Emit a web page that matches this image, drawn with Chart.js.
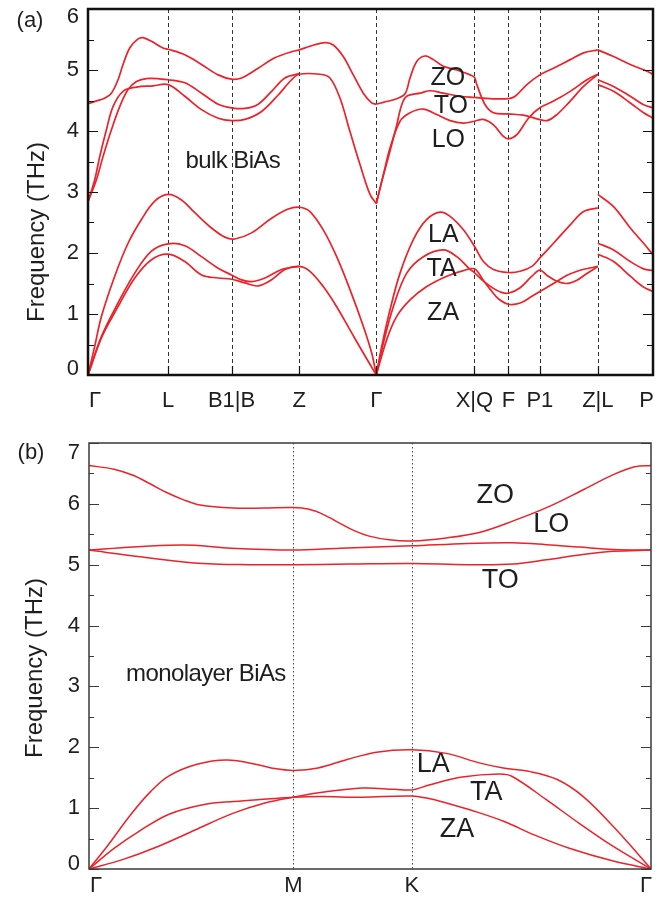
<!DOCTYPE html>
<html>
<head>
<meta charset="utf-8">
<script src="https://cdn.jsdelivr.net/npm/chart.js@4.4.1/dist/chart.umd.min.js"></script>
<style>
  html, body { margin: 0; padding: 0; background: #fff; }
  #wrap { position: relative; width: 671px; height: 898px; }
  canvas { position: absolute; left: 0; }
  #bulkChart { top: 0; width: 671px; height: 420px; }
  #monoChart { top: 420px; width: 671px; height: 478px; }
</style>
</head>
<body>
<div id="wrap">
  <canvas id="bulkChart" width="671" height="420"></canvas>
  <canvas id="monoChart" width="671" height="478"></canvas>
</div>
<script>
// === k-path (path length in arbitrary units) and labels ===
const bulkTicks = [0, 0.80, 1.434, 2.11, 2.88, 3.86, 4.20, 4.514, 5.093, 5.644];
const bulkTickLabels = ["Γ", "L", "B1|B", "Z", "Γ", "X|Q", "F", "P1", "Z|L", "P"];
const monoTicks = [0, 2.043, 3.227, 5.617];
const monoTickLabels = ["Γ", "M", "K", "Γ"];
const bulkFreqTicks = [0, 1, 2, 3, 4, 5, 6];
const monoFreqTicks = [0, 1, 2, 3, 4, 5, 6, 7];

// === bulk BiAs: Γ - L - B1|B - Z - Γ ===
const bulkOpt1L = [[0,4.45],[0.12,4.51],[0.17,4.54],[0.234,4.62],[0.30,4.84],[0.35,5.09],[0.417,5.36],[0.50,5.51],[0.55,5.53],[0.634,5.47],[0.75,5.36],[0.80,5.34],[0.967,5.25],[1.134,5.09],[1.30,4.92],[1.434,4.85],[1.534,4.87],[1.70,5.03],[1.867,5.20],[2.034,5.30],[2.11,5.33],[2.217,5.39],[2.367,5.45],[2.45,5.41],[2.55,5.22],[2.65,4.92],[2.75,4.62],[2.834,4.46],[2.88,4.44]];
const bulkOpt2L = [[0,2.84],[0.067,3.20],[0.117,3.58],[0.184,4.02],[0.25,4.40],[0.35,4.65],[0.484,4.72],[0.65,4.74],[0.80,4.76],[0.967,4.57],[1.134,4.35],[1.30,4.21],[1.434,4.17],[1.567,4.19],[1.734,4.32],[1.90,4.59],[2.034,4.84],[2.11,4.93],[2.317,4.93],[2.417,4.87],[2.517,4.54],[2.617,3.99],[2.717,3.45],[2.817,2.96],[2.88,2.81]];
const bulkOpt3L = [[0,2.84],[0.084,3.20],[0.15,3.58],[0.234,4.02],[0.317,4.40],[0.40,4.68],[0.484,4.81],[0.584,4.86],[0.80,4.84],[0.967,4.79],[1.134,4.62],[1.30,4.44],[1.434,4.38],[1.567,4.37],[1.70,4.44],[1.834,4.65],[1.967,4.87],[2.11,4.94]];
const bulkLAL = [[0,0],[0.067,0.47],[0.134,0.96],[0.267,1.62],[0.40,2.16],[0.534,2.55],[0.667,2.85],[0.80,2.96],[0.934,2.87],[1.067,2.66],[1.234,2.41],[1.367,2.26],[1.467,2.23],[1.634,2.33],[1.834,2.57],[2.00,2.72],[2.11,2.75],[2.217,2.68],[2.35,2.38],[2.484,1.94],[2.617,1.40],[2.75,0.80],[2.834,0.36],[2.88,0]];
const bulkTA1L = [[0,0],[0.134,0.63],[0.30,1.18],[0.467,1.67],[0.634,2.03],[0.80,2.15],[0.967,2.12],[1.134,1.94],[1.30,1.75],[1.434,1.64],[1.534,1.56],[1.634,1.53],[1.767,1.59],[1.934,1.73],[2.11,1.78]];
const bulkTA2L = [[0,0],[0.134,0.61],[0.30,1.12],[0.467,1.59],[0.634,1.89],[0.80,1.98],[0.967,1.86],[1.134,1.64],[1.30,1.59],[1.434,1.57],[1.567,1.51],[1.70,1.46],[1.834,1.56],[1.967,1.73],[2.11,1.78],[2.217,1.70],[2.35,1.45],[2.484,1.12],[2.617,0.74],[2.75,0.36],[2.88,0]];

// === bulk BiAs: Γ - X|Q - F - P1 - Z|L ===
const bulkOpt1R = [[2.88,4.44],[2.95,4.47],[3.084,4.53],[3.167,4.61],[3.217,4.87],[3.284,5.14],[3.367,5.23],[3.45,5.17],[3.55,5.06],[3.684,5.00],[3.817,4.92],[3.86,4.88],[3.884,4.76],[3.967,4.43],[4.05,4.30],[4.20,4.28],[4.35,4.26],[4.484,4.20],[4.584,4.17],[4.684,4.27],[4.817,4.49],[4.95,4.73],[5.093,4.93]];
const bulkOpt2R = [[2.88,2.81],[2.934,3.17],[3.017,3.67],[3.084,4.10],[3.134,4.43],[3.184,4.57],[3.317,4.62],[3.417,4.66],[3.55,4.62],[3.717,4.57],[3.86,4.55],[4.017,4.53],[4.20,4.53],[4.267,4.57],[4.384,4.76],[4.514,4.92],[4.65,5.03],[4.817,5.17],[4.95,5.28],[5.093,5.33]];
const bulkOpt3R = [[2.88,2.81],[2.95,3.28],[3.017,3.72],[3.117,4.16],[3.217,4.30],[3.35,4.36],[3.484,4.27],[3.617,4.17],[3.75,4.13],[3.86,4.16],[3.95,4.19],[4.05,4.10],[4.15,3.91],[4.20,3.87],[4.284,3.94],[4.40,4.21],[4.514,4.38],[4.65,4.49],[4.817,4.65],[4.984,4.84],[5.093,4.93]];
const bulkLAR = [[2.88,0],[2.934,0.47],[3.017,1.07],[3.117,1.67],[3.25,2.22],[3.384,2.55],[3.517,2.67],[3.617,2.60],[3.75,2.38],[3.86,2.11],[3.95,1.86],[4.05,1.73],[4.20,1.68],[4.317,1.70],[4.434,1.78],[4.514,1.92],[4.65,2.16],[4.817,2.46],[4.95,2.68],[5.093,2.74]];
const bulkTAR = [[2.88,0],[2.95,0.52],[3.05,1.12],[3.184,1.67],[3.35,1.94],[3.55,2.05],[3.684,1.94],[3.817,1.73],[3.86,1.68],[3.95,1.54],[4.05,1.42],[4.12,1.36],[4.20,1.34],[4.317,1.43],[4.434,1.62],[4.514,1.72],[4.58,1.64],[4.68,1.54],[4.78,1.50],[4.88,1.55],[4.98,1.66],[5.093,1.78]];
const bulkZAR = [[2.88,0],[2.984,0.58],[3.084,0.96],[3.217,1.23],[3.384,1.45],[3.584,1.62],[3.75,1.71],[3.86,1.74],[3.95,1.55],[4.02,1.40],[4.10,1.25],[4.20,1.16],[4.317,1.18],[4.434,1.29],[4.514,1.37],[4.65,1.50],[4.78,1.63],[4.90,1.71],[5.00,1.75],[5.093,1.78]];

// === bulk BiAs: L - P ===
const bulkOpt1P = [[5.093,5.33],[5.25,5.22],[5.417,5.09],[5.584,4.98],[5.644,4.93]];
const bulkOpt2P = [[5.093,4.84],[5.25,4.73],[5.417,4.57],[5.55,4.43],[5.644,4.38]];
const bulkOpt3P = [[5.093,4.76],[5.25,4.65],[5.417,4.46],[5.55,4.30],[5.644,4.21]];
const bulkAc1P = [[5.093,2.96],[5.25,2.76],[5.417,2.41],[5.55,2.16],[5.644,1.97]];
const bulkAc2P = [[5.093,2.16],[5.25,2.05],[5.417,1.86],[5.55,1.74],[5.644,1.71]];
const bulkAc3P = [[5.093,1.98],[5.25,1.86],[5.417,1.62],[5.55,1.44],[5.644,1.37]];

// === monolayer BiAs: Γ - M - K - Γ ===
const monoZO = [[0,6.63],[0.25,6.57],[0.44,6.47],[0.61,6.33],[0.77,6.19],[0.94,6.07],[1.11,5.98],[1.44,5.93],[1.75,5.93],[2.043,5.94],[2.20,5.91],[2.35,5.82],[2.509,5.68],[2.65,5.56],[2.80,5.47],[3.00,5.41],[3.227,5.39],[3.57,5.44],[3.90,5.53],[4.24,5.72],[4.59,5.95],[4.95,6.24],[5.24,6.48],[5.455,6.61],[5.617,6.63]];
const monoLO = [[0,5.24],[0.33,5.28],[0.80,5.32],[1.05,5.32],[1.42,5.27],[2.043,5.24],[2.51,5.27],[3.227,5.31],[3.78,5.35],[4.24,5.36],[4.57,5.33],[4.90,5.29],[5.24,5.25],[5.617,5.24]];
const monoTO = [[0,5.24],[0.51,5.13],[1.05,5.03],[1.60,5.00],[2.043,5.00],[2.60,5.01],[3.227,5.02],[3.78,5.00],[4.24,5.01],[4.57,5.08],[4.90,5.16],[5.24,5.22],[5.617,5.24]];
const monoLA = [[0,0],[0.18,0.37],[0.42,0.90],[0.62,1.28],[0.80,1.53],[1.08,1.72],[1.38,1.79],[1.70,1.71],[1.855,1.65],[2.043,1.62],[2.29,1.66],[2.58,1.80],[2.873,1.92],[3.227,1.96],[3.57,1.90],[3.91,1.74],[4.14,1.66],[4.41,1.60],[4.68,1.47],[4.94,1.19],[5.24,0.70],[5.48,0.26],[5.617,0]];
const monoTA = [[0,0],[0.327,0.15],[0.69,0.37],[1.06,0.64],[1.43,0.91],[1.75,1.08],[2.043,1.18],[2.33,1.26],[2.73,1.33],[3.055,1.31],[3.227,1.30],[3.40,1.38],[3.73,1.51],[4.10,1.56],[4.23,1.52],[4.57,1.14],[4.90,0.75],[5.24,0.37],[5.617,0]];
const monoZA = [[0,0],[0.25,0.34],[0.50,0.62],[0.80,0.90],[1.15,1.06],[1.45,1.11],[1.78,1.15],[2.043,1.18],[2.33,1.19],[2.73,1.18],[3.227,1.20],[3.42,1.15],[3.58,1.08],[3.85,0.95],[4.15,0.78],[4.45,0.56],[4.80,0.34],[5.24,0.13],[5.617,0]];

// === text annotations (k, frequency) ===
const bulkNotes = [["bulk BiAs", 1.447, 3.51], ["ZO", 3.595, 4.86], ["TO", 3.625, 4.40], ["LO", 3.60, 3.85], ["LA", 3.55, 2.30], ["TA", 3.532, 1.73], ["ZA", 3.547, 1.02]];
const monoNotes = [["monolayer BiAs", 1.168, 3.205], ["ZO", 4.06, 6.13], ["LO", 4.62, 5.66], ["TO", 4.11, 4.74], ["LA", 3.44, 1.71], ["TA", 3.97, 1.25], ["ZA", 3.677, 0.645]];

const RED = "#ee2128";
const FONT = "'Liberation Sans', Arial, sans-serif";

function band(points, width) {
  return {
    data: points.map(([x, y]) => ({ x, y })),
    borderColor: RED,
    borderWidth: width,
    pointRadius: 0,
    showLine: true,
    fill: false,
    tension: 0.35,
  };
}

// === draws frame, inner ticks, guide lines and all texts ===
function decorPlugin(o) {
  return {
    id: "decor",
    beforeDatasetsDraw(chart) {
      const { ctx, chartArea: a, scales } = chart;
      ctx.save();
      ctx.strokeStyle = o.guideColor;
      ctx.lineWidth = 1;
      ctx.setLineDash(o.guideDash);
      o.ticks.slice(1, -1).forEach((k) => {
        const px = Math.round(scales.x.getPixelForValue(k)) + 0.5;
        ctx.beginPath();
        ctx.moveTo(px, a.top);
        ctx.lineTo(px, a.bottom);
        ctx.stroke();
      });
      ctx.restore();
    },
    afterDatasetsDraw(chart) {
      const { ctx, chartArea: a, scales } = chart;
      const x = scales.x, y = scales.y;
      ctx.save();
      ctx.setLineDash([]);

      // inner ticks on both sides every 0.5 THz
      ctx.strokeStyle = o.frameColor;
      ctx.lineWidth = 1.2;
      for (let v = 0; v <= o.freqTicks[o.freqTicks.length - 1]; v += 0.5) {
        const py = Math.round(y.getPixelForValue(v)) + 0.5;
        const len = Number.isInteger(v) ? o.majorLen : o.minorLen;
        ctx.beginPath();
        ctx.moveTo(a.left, py); ctx.lineTo(a.left + len, py);
        ctx.moveTo(a.right, py); ctx.lineTo(a.right - len, py);
        ctx.stroke();
      }
      if (o.bottomTick) {
        o.ticks.slice(1, -1).forEach((k) => {
          const px = Math.round(x.getPixelForValue(k)) + 0.5;
          ctx.beginPath();
          ctx.moveTo(px, a.bottom); ctx.lineTo(px, a.bottom - o.bottomTick);
          ctx.stroke();
        });
      }

      // frame
      ctx.lineWidth = o.frameWidth;
      ctx.strokeRect(a.left, a.top, a.right - a.left, a.bottom - a.top);

      ctx.fillStyle = "#1e1e1e";
      // frequency tick labels
      ctx.font = o.tickFont + "px " + FONT;
      ctx.textAlign = "right";
      ctx.textBaseline = "middle";
      o.freqTicks.forEach((v) => {
        let py = y.getPixelForValue(v);
        py = Math.min(Math.max(py, a.top + o.edgeTop), a.bottom - o.edgeBottom);
        ctx.fillText(String(v), a.left - o.labelGap, py);
      });

      // k-path labels
      o.ticks.forEach((k, i) => {
        let px = x.getPixelForValue(k);
        ctx.textAlign = "center";
        if (i === 0) { ctx.textAlign = "left"; px = a.left + 1; }
        if (i === o.ticks.length - 1) { ctx.textAlign = "right"; px = a.right + 1; }
        ctx.fillText(o.tickLabels[i], px, a.bottom + o.kLabelDrop);
      });

      // axis title
      ctx.save();
      ctx.translate(o.titleX, o.titleY);
      ctx.rotate(-Math.PI / 2);
      ctx.textAlign = "center";
      ctx.font = o.titleFont + "px " + FONT;
      ctx.fillText("Frequency (THz)", 0, 0);
      ctx.restore();

      // panel tag
      ctx.textAlign = "center";
      ctx.font = o.tagFont + "px " + FONT;
      ctx.fillText(o.tag, o.tagX, o.tagY);

      // band and material labels
      ctx.textAlign = "center";
      o.notes.forEach(([t, k, v], i) => {
        ctx.font = (i === 0 ? o.nameFont : o.noteFont) + "px " + FONT;
        ctx.letterSpacing = i === 0 ? "-0.6px" : "0px";
        ctx.fillText(t, x.getPixelForValue(k), y.getPixelForValue(v));
      });
      ctx.restore();
    },
  };
}

function makeChart(id, bands, width, kMax, fMax, padding, deco) {
  return new Chart(document.getElementById(id), {
    type: "scatter",
    data: { datasets: bands.map((b) => band(b, width)) },
    options: {
      responsive: false,
      animation: false,
      layout: { padding },
      plugins: { legend: { display: false }, tooltip: { enabled: false } },
      scales: {
        x: { type: "linear", min: 0, max: kMax, display: false },
        y: { type: "linear", min: 0, max: fMax, display: false },
      },
    },
    plugins: [decorPlugin(deco)],
  });
}

makeChart(
  "bulkChart",
  [bulkOpt1L, bulkOpt2L, bulkOpt3L, bulkLAL, bulkTA1L, bulkTA2L,
   bulkOpt1R, bulkOpt2R, bulkOpt3R, bulkLAR, bulkTAR, bulkZAR,
   bulkOpt1P, bulkOpt2P, bulkOpt3P, bulkAc1P, bulkAc2P, bulkAc3P],
  1.7, bulkTicks[bulkTicks.length - 1], 6,
  { left: 88, right: 18, top: 9, bottom: 45 },
  {
    ticks: bulkTicks, tickLabels: bulkTickLabels, freqTicks: bulkFreqTicks,
    guideColor: "#333", guideDash: [4, 3], frameColor: "#111", frameWidth: 2.5,
    majorLen: 10, minorLen: 6, bottomTick: 9,
    tickFont: 22, labelGap: 9, edgeTop: 8, edgeBottom: 6, kLabelDrop: 26,
    titleFont: 24, titleX: 37, titleY: 232,
    tag: "(a)", tagFont: 22, tagX: 30, tagY: 21,
    notes: bulkNotes, nameFont: 24, noteFont: 25,
  }
);

makeChart(
  "monoChart",
  [monoZO, monoLO, monoTO, monoLA, monoTA, monoZA],
  1.5, monoTicks[monoTicks.length - 1], 7,
  { left: 89, right: 20, top: 23, bottom: 29 },
  {
    ticks: monoTicks, tickLabels: monoTickLabels, freqTicks: monoFreqTicks,
    guideColor: "#444", guideDash: [1.5, 2.5], frameColor: "#3a3a3a", frameWidth: 1.5,
    majorLen: 10, minorLen: 5, bottomTick: 0,
    tickFont: 22, labelGap: 9, edgeTop: 10, edgeBottom: 5, kLabelDrop: 17,
    titleFont: 24, titleX: 35, titleY: 248,
    tag: "(b)", tagFont: 22, tagX: 31, tagY: 33,
    notes: monoNotes, nameFont: 24, noteFont: 27,
  }
);
</script>
</body>
</html>
